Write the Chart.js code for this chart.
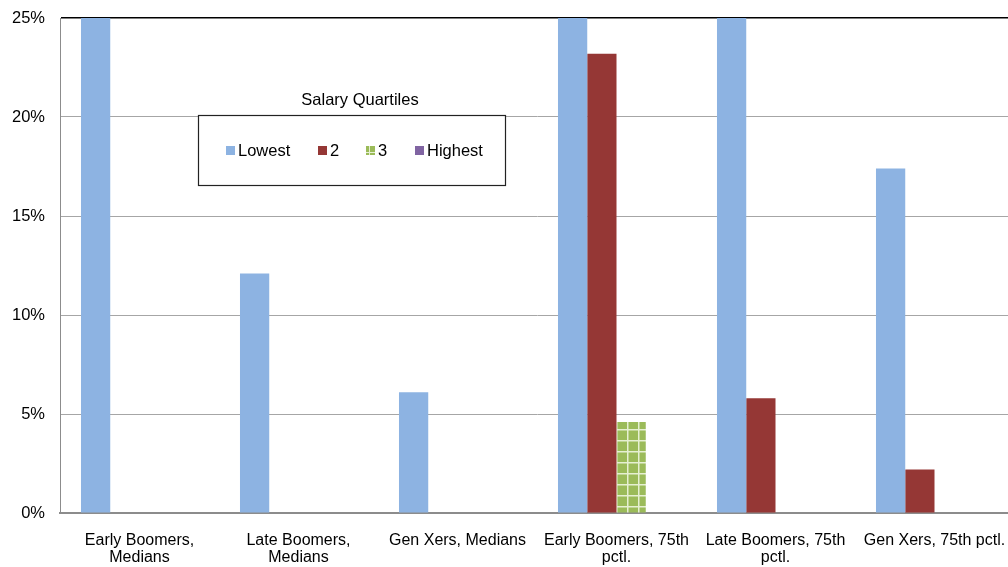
<!DOCTYPE html>
<html>
<head>
<script src="https://cdn.jsdelivr.net/npm/chart.js"></script>
<style>
  html, body { margin: 0; padding: 0; background: #fff; overflow: hidden; }
  .chart-container { position: relative; width: 1008px; height: 567px; overflow: hidden; }
</style>
</head>
<body>
<div class="chart-container">
  <!-- plot runs a few px past the right edge, like the original -->
  <canvas id="salaryChart" width="1014" height="567"></canvas>
</div>
<script>
// categories and values (percent); bars taller than 25% are cut off at the top of the plot
var categories = [
  ['Early Boomers,', 'Medians'],
  ['Late Boomers,', 'Medians'],
  'Gen Xers, Medians',
  ['Early Boomers, 75th', 'pctl.'],
  ['Late Boomers, 75th', 'pctl.'],
  'Gen Xers, 75th pctl.'
];
var seriesNames = ['Lowest', '2', '3', 'Highest'];
var lowest  = [27, 12.1, 6.1, 27, 27, 17.4];
var second  = [0, 0, 0, 23.2, 5.8, 2.2];
var third   = [0, 0, 0, 4.6, 0, 0];
var highest = [0, 0, 0, 0, 0, 0];
var yTicks  = [0, 5, 10, 15, 20, 25];

var FONT = "'Liberation Sans', Arial, sans-serif";

// green bar fill with a light grid on it
function gridPattern() {
  var c = document.createElement('canvas');
  c.width = 11; c.height = 11;
  var g = c.getContext('2d');
  g.fillStyle = '#9bbb59';
  g.fillRect(0, 0, 11, 11);
  g.fillStyle = '#e6f0d2';
  g.fillRect(0, 0, 11, 1.5);
  g.fillRect(0, 0, 1.5, 11);
  return g.createPattern(c, 'repeat');
}

var colors = ['#8db3e2', '#953735', gridPattern(), '#8064a2'];
var swatchColors = ['#8db3e2', '#953735', '#9bbb59', '#8064a2'];

var legendBox = {
  id: 'legendBox',
  afterDraw: function (chart) {
    var ctx = chart.ctx;
    ctx.save();
    ctx.fillStyle = '#fff';
    ctx.fillRect(198, 115, 307, 70);
    ctx.strokeStyle = '#222';
    ctx.lineWidth = 1.2;
    ctx.strokeRect(198.5, 115.5, 307, 70);

    ctx.fillStyle = '#000';
    ctx.font = '16.5px ' + FONT;
    ctx.textAlign = 'center';
    ctx.textBaseline = 'middle';
    ctx.fillText('Salary Quartiles', 360, 100);

    var xs = [226, 318, 366, 415];
    ctx.textAlign = 'left';
    chart.data.datasets.forEach(function (ds, i) {
      ctx.fillStyle = swatchColors[i];
      ctx.fillRect(xs[i], 146, 9, 9);
      if (i === 2) {
        ctx.fillStyle = '#e6f0d2';
        ctx.fillRect(xs[i] + 3, 146, 1, 9);
        ctx.fillRect(xs[i], 152, 9, 1);
      }
      ctx.fillStyle = '#000';
      ctx.fillText(ds.label, xs[i] + 12, 151);
    });
    ctx.restore();
  }
};

var ctx = document.getElementById('salaryChart').getContext('2d');
new Chart(ctx, {
  type: 'bar',
  data: {
    labels: categories,
    datasets: [lowest, second, third, highest].map(function (vals, i) {
      return {
        label: seriesNames[i],
        data: vals,
        backgroundColor: colors[i],
        borderWidth: 0,
        categoryPercentage: 0.736,
        barPercentage: 1.0
      };
    })
  },
  options: {
    responsive: false,
    animation: false,
    devicePixelRatio: 1,
    layout: { padding: { top: 18, left: 0, right: 0, bottom: 0 } },
    plugins: {
      legend: { display: false },
      tooltip: { enabled: false }
    },
    scales: {
      x: {
        grid: { display: false, drawTicks: false },
        border: { color: '#8c8c8c', width: 2 },
        ticks: {
          color: '#000',
          font: { family: FONT, size: 16, lineHeight: 1.08 },
          padding: 19,
          maxRotation: 0,
          autoSkip: false
        },
        afterFit: function (scale) {
          scale.height = 54;
          scale.paddingLeft = 0;
          scale.paddingRight = 0;
        }
      },
      y: {
        min: 0,
        max: 25,
        afterBuildTicks: function (scale) {
          scale.ticks = yTicks.map(function (v) { return { value: v }; });
        },
        grid: {
          drawTicks: false,
          color: function (c) { return c.tick && c.tick.value === 25 ? '#000' : '#a6a6a6'; },
          lineWidth: function (c) { return c.tick && c.tick.value === 25 ? 1.5 : 1; }
        },
        border: { color: '#8c8c8c', width: 1 },
        ticks: {
          color: '#000',
          font: { family: FONT, size: 16.5 },
          padding: 15,
          callback: function (v) { return v + '%'; }
        },
        afterFit: function (scale) {
          scale.width = 60;
          scale.paddingTop = 0;
          scale.paddingBottom = 0;
        }
      }
    }
  },
  plugins: [legendBox]
});
</script>
</body>
</html>
